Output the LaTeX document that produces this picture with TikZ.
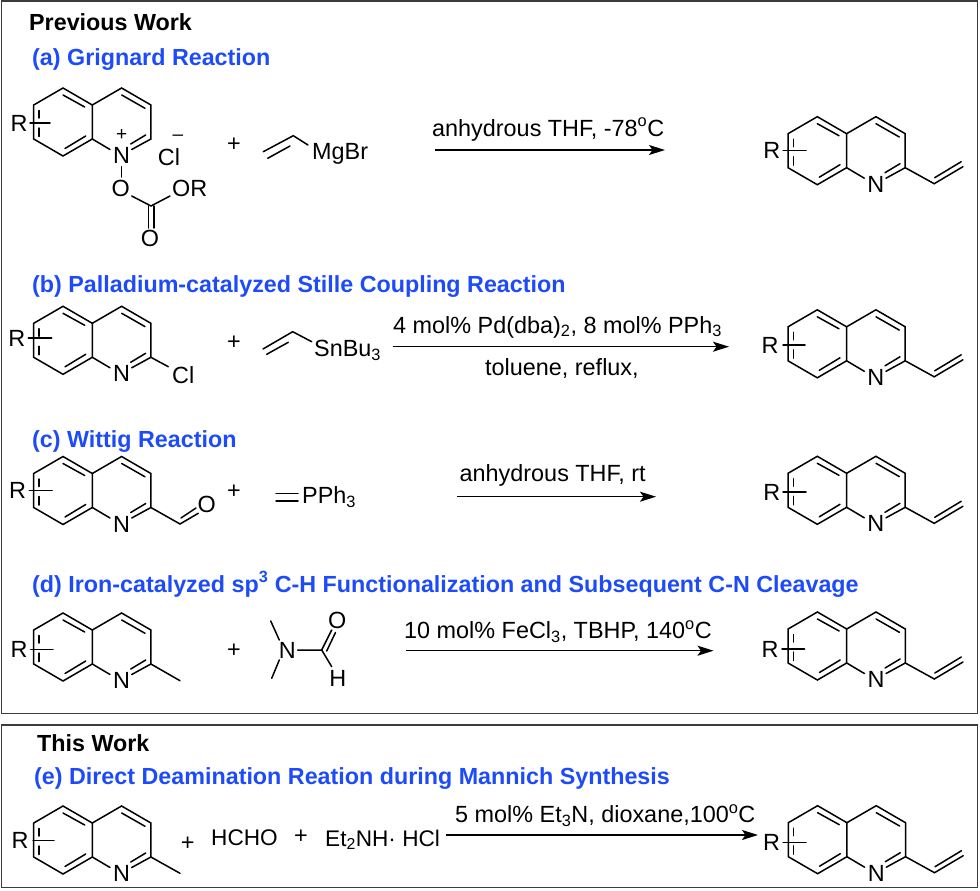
\documentclass[tikz,border=0pt]{standalone}
\usepackage{fontspec}
\setmainfont{Liberation Sans}
\usepackage{tikz}
\usetikzlibrary{arrows.meta}
\definecolor{headblue}{RGB}{30,75,250}
\definecolor{framegray}{RGB}{60,60,60}
\tikzset{
  bond/.style={line width=1.5pt,black,line cap=round},
  atom/.style={inner sep=0pt,font=\fontsize{23.4}{25}\selectfont},
  smallatom/.style={inner sep=0pt,font=\fontsize{22.6}{25}\selectfont},
  charge/.style={inner sep=0pt,font=\fontsize{19}{20}\selectfont},
  reagent/.style={inner sep=0pt,anchor=base west,font=\fontsize{23.4}{25}\selectfont},
  headtxt/.style={inner sep=0pt,anchor=base west,font=\fontsize{23.3}{25}\selectfont\bfseries},
  frame/.style={line width=1.4pt,framegray},
  rxn/.style={line width=1.5pt,-{Stealth[length=16pt,width=10pt,inset=3.5pt]}},
  pics/quin/.style={code={
    % both rings, origin at the centre of the left ring
    \draw[bond] (-29.3,-17) -- (0,-34) -- (29.3,-17) -- (29.3,17) -- (0,34) -- (-29.3,17) -- cycle;
    \draw[bond] (29.3,-17) -- (58.6,-34) -- (87.9,-17) -- (87.9,17) -- (68.7,27.5);
    \draw[bond] (29.3,17) -- (47,27.5);
    \draw[bond] (0,-27) -- (21.7,-15);
    \draw[bond] (2,26.5) -- (22.7,14);
    \draw[bond] (58.7,-27) -- (82,-13.7);
    \draw[bond] (82.7,13) -- (67.7,22);
    \draw[bond] (-24,-11.5) -- (-24,-4);
    \draw[bond] (-24,6) -- (-24,14.5);
    \node[atom] (N) at (58.6,33.5) {N};
    \coordinate (C) at (87.9,17);
  }},
  pics/vinyl/.style={code={
    \draw[bond] (0,0) -- (29,16) -- (57.7,-1);
    \draw[bond] (29.5,10) -- (56,-6);
  }}
}
\newcommand{\degC}{\textsuperscript{o}C}
\begin{document}
\begin{tikzpicture}[x=1pt,y=-1pt]
\useasboundingbox (0,0) rectangle (980,891);
\draw[frame] (1.7,1.2) rectangle (977.3,713.5);
\draw[frame] (1.7,725) rectangle (977.3,887.5);
% headings
\node[headtxt] (prev) at (29,31) {Previous Work};
\node[headtxt,headblue] (heada) at (32,66) {(a) Grignard Reaction};
\node[headtxt,headblue] (headb) at (32,292) {(b) Palladium-catalyzed Stille Coupling Reaction};
\node[headtxt,headblue] (headc) at (32,447) {(c) Wittig Reaction};
\node[headtxt,headblue] (headd) at (32,592) {(d) Iron-catalyzed sp\textsuperscript{3} C-H Functionalization and Subsequent C-N Cleavage};
\node[headtxt] (this) at (37,751) {This Work};
\node[headtxt,headblue] (heade) at (34,784) {(e) Direct Deamination Reation during Mannich Synthesis};
% (a)
\pic (qa) at (63,122) {quin};
\node[atom] (qaR) at (19,123) {R};
\draw[bond] (30,123) -- (50,123);
\node[charge] (qaplus) at (121.7,135.5) {+};
\node[atom] (cla) at (169,157) {Cl};
\node[charge] (clminus) at (178,138) {–};
\node[atom] (oa) at (120.7,188) {O};
\node[atom,anchor=west] (ora) at (172,188) {OR};
\node[atom] (oc) at (150,238) {O};
\coordinate (ca) at (151,206);
\draw[bond] (121.7,166.7) -- (121.7,177);
\draw[bond] (131.7,196) -- (ca) -- (170,196);
\draw[bond] (148.3,206) -- (148.3,228);
\draw[bond] (154,206) -- (154,228);
\node[atom] (plusa) at (234,145) {+};
\node[atom,anchor=west] (mgbr) at (312,153.5) {MgBr};
\draw[bond] (263.3,151.7) -- (293.3,135.7) -- (308,145);
\draw[bond] (267.7,158.3) -- (290,146);
\coordinate (a1) at (435,150);
\coordinate (a2) at (665,150);
\draw[rxn] (a1) -- (a2);
\node[reagent] (conda) at (432,136) {anhydrous THF, -78\degC};
\pic (pa) at (817.3,150.7) {quin};
\pic at (paC) {vinyl};
\node[atom] (paR) at (771.7,150.7) {R};
\draw[bond] (783,150.7) -- (806,150.7);
% (b)
\pic (qb) at (63,340.3) {quin};
\node[atom] (qbR) at (16.7,338) {R};
\draw[bond] (28.3,338) -- (51.7,338);
\node[atom,anchor=west] (clb) at (172,375) {Cl};
\draw[bond] (qbC) -- (168.3,366.7);
\node[atom] (plusb) at (234,343) {+};
\draw[bond] (263,349) -- (292.7,331.7) -- (311.7,341.7);
\draw[bond] (266.7,354.3) -- (288.3,342.3);
\node[reagent] (snbu) at (314,356.7) {SnBu\textsubscript{3}};
\coordinate (b1) at (392.7,346.7);
\coordinate (b2) at (729,346.7);
\draw[rxn] (b1) -- (b2);
\node[reagent] (condb) at (393,333) {4 mol\% Pd(dba)\textsubscript{2}, 8 mol\% PPh\textsubscript{3}};
\node[reagent] (condb2) at (485,375) {toluene, reflux,};
\pic (pb) at (817.3,343.8) {quin};
\pic at (pbC) {vinyl};
\node[atom] (pbR) at (770,345) {R};
\draw[bond] (783,345) -- (805,345);
% (c)
\pic (qc) at (63,490.5) {quin};
\node[atom] (qcR) at (17.5,490.7) {R};
\draw[bond] (29.3,490.7) -- (52.3,490.7);
\node[atom] (oald) at (206.7,504.3) {O};
\coordinate (cald) at (180,524);
\draw[bond] (qcC) -- (cald) -- (198.3,513.3);
\draw[bond] (181,518) -- (196,508);
\node[atom] (plusc) at (234,492) {+};
\draw[bond] (276,493.3) -- (298,493.3);
\draw[bond] (276,501) -- (298,501);
\node[reagent] (pph) at (302,503.5) {PPh\textsubscript{3}};
\coordinate (c1) at (457,496.7);
\coordinate (c2) at (656,496.7);
\draw[rxn] (c1) -- (c2);
\node[reagent] (condc) at (459.5,481.7) {anhydrous THF, rt};
\pic (pc) at (817.3,490.3) {quin};
\pic at (pcC) {vinyl};
\node[atom] (pcR) at (771.7,492) {R};
\draw[bond] (783,492) -- (806,492);
% (d)
\pic (qd) at (63,647) {quin};
\node[atom] (qdR) at (19,649.3) {R};
\draw[bond] (30.7,649.3) -- (53,649.3);
\draw[bond] (qdC) -- (180,680.7);
\node[atom] (plusd) at (234,651) {+};
\node[atom] (ndmf) at (287.3,650) {N};
\draw[bond] (279.3,640) -- (270.7,621);
\draw[bond] (279.3,660) -- (271.7,678.3);
\coordinate (cdmf) at (321.7,650);
\draw[bond] (297.7,650) -- (cdmf) -- (331.7,630);
\draw[bond] (326.7,651) -- (335.5,632.5);
\draw[bond] (cdmf) -- (331.7,666.7);
\node[atom] (odmf) at (337.3,620.7) {O};
\node[atom] (hdmf) at (337.7,678.3) {H};
\coordinate (d1) at (405.6,650.7);
\coordinate (d2) at (713.5,650.7);
\draw[rxn] (d1) -- (d2);
\node[reagent] (condd) at (404,638.3) {10 mol\% FeCl\textsubscript{3}, TBHP, 140\degC};
\pic (pd) at (817.4,646) {quin};
\pic at (pdC) {vinyl};
\node[atom] (pdR) at (770,649.3) {R};
\draw[bond] (782,649) -- (804.5,649);
% (e)
\pic (qe) at (63,840) {quin};
\node[atom] (qeR) at (20,840.7) {R};
\draw[bond] (33,840.7) -- (54,840.7);
\draw[bond] (qeC) -- (180,873.3);
\node[atom] (pluse) at (187.7,844) {+};
\node[smallatom] (hcho) at (244.5,838) {HCHO};
\node[atom] (pluse2) at (301,837) {+};
\node[smallatom,anchor=base west] (amine) at (325,846) {Et\textsubscript{2}NH· HCl};
\coordinate (e1) at (446,835);
\coordinate (e2) at (758,835);
\draw[rxn] (e1) -- (e2);
\node[reagent] (conde) at (455,822.7) {5 mol\% Et\textsubscript{3}N, dioxane,100\degC};
\pic (pe) at (817.6,839.7) {quin};
\pic at (peC) {vinyl};
\node[atom] (peR) at (771.5,842.7) {R};
\draw[bond] (783,842.7) -- (806,842.7);
\end{tikzpicture}
\end{document}
